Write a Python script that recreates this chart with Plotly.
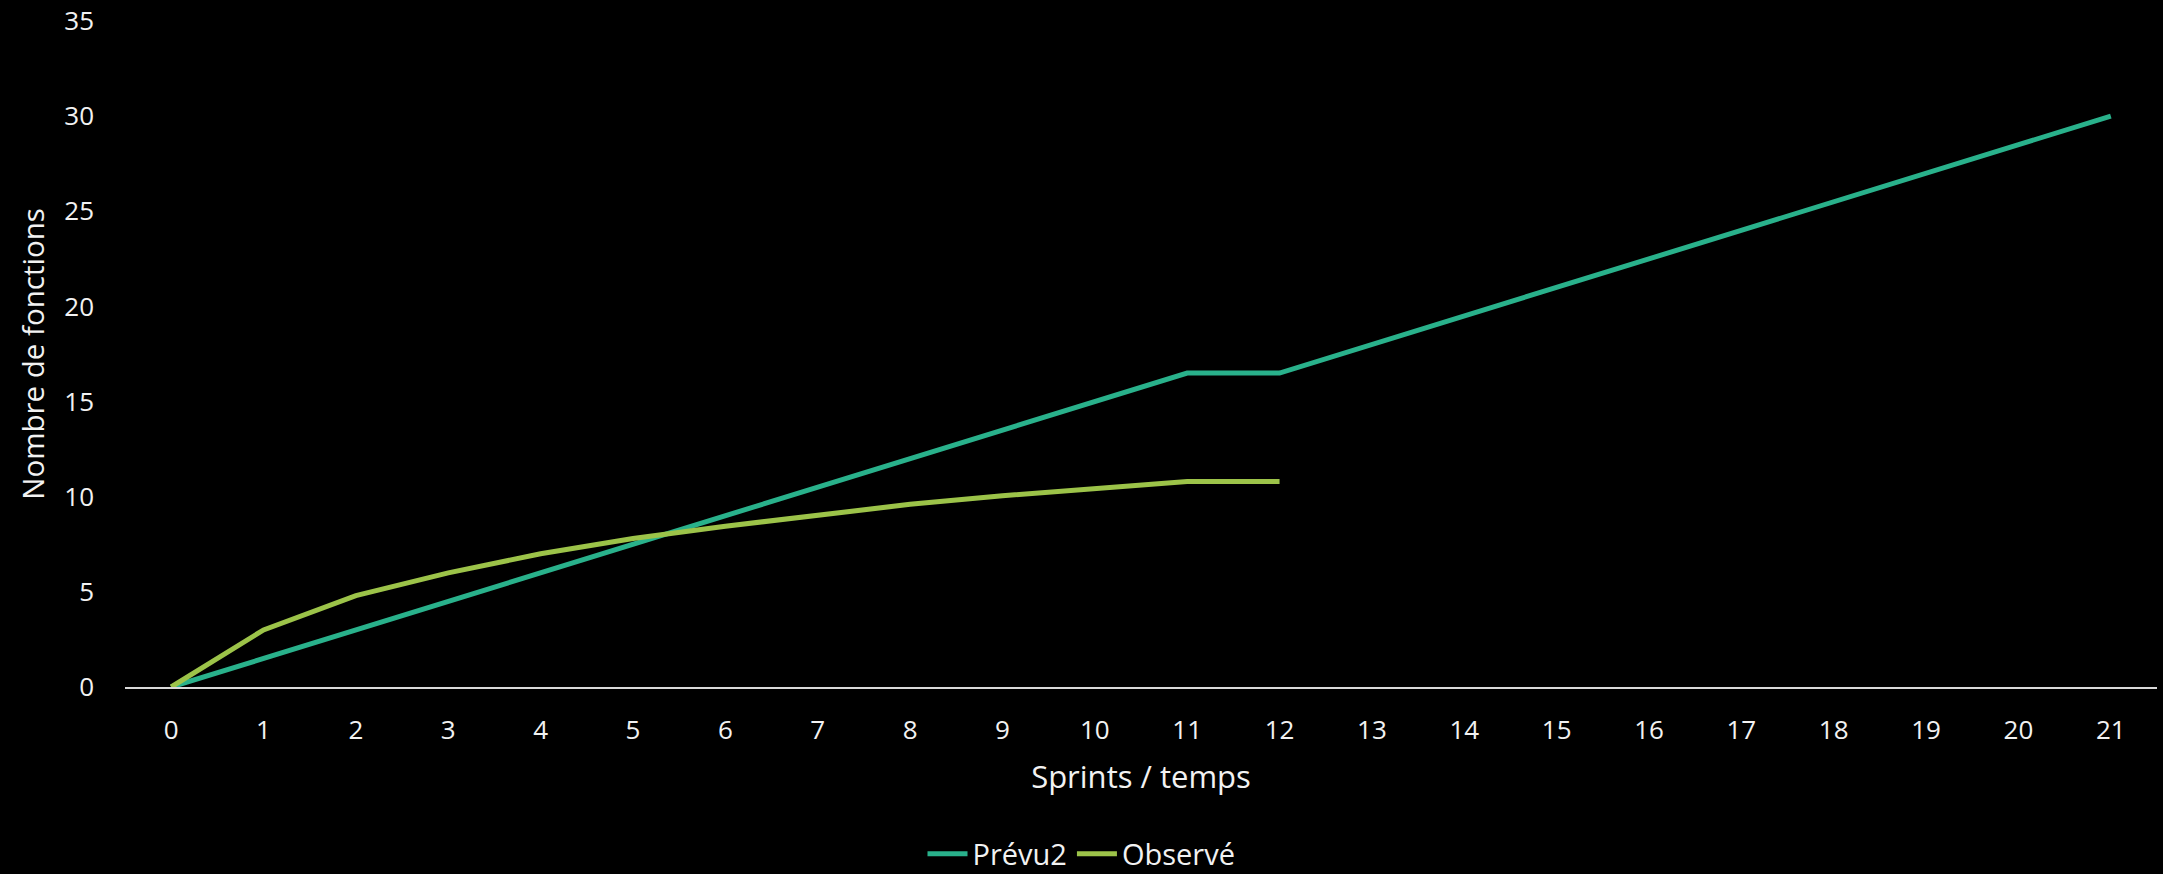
import plotly.graph_objects as go

sprints = list(range(0, 22))
prevu2 = [0, 1.5, 3, 4.5, 6, 7.5, 9, 10.5, 12, 13.5, 15, 16.5, 16.5, 18, 19.5, 21, 22.5, 24, 25.5, 27, 28.5, 30]
observe_x = list(range(0, 13))
observe = [0, 3, 4.8, 6, 7, 7.8, 8.45, 9.05, 9.6, 10.05, 10.45, 10.8, 10.8]

TEAL = "#29B18B"
GREEN = "#9CC349"
TXT = "#F2F2F2"
FONT = "Open Sans"

W, H = 2163, 874
ml, mr, mt, mb = 125, 6, 21, 187

fig = go.Figure()
fig.add_trace(go.Scatter(x=sprints, y=prevu2, mode="lines", name="Prévu2",
                         line=dict(color=TEAL, width=5)))
fig.add_trace(go.Scatter(x=observe_x, y=observe, mode="lines", name="Observé",
                         line=dict(color=GREEN, width=5)))

fig.update_layout(
    width=W, height=H,
    margin=dict(l=ml, r=mr, t=mt, b=mb, pad=0, autoexpand=False),
    paper_bgcolor="black", plot_bgcolor="black",
    font=dict(family=FONT, color=TXT, size=26),
    showlegend=True,
    legend=dict(orientation="h", xref="container", yref="container",
                x=0.5, xanchor="center", y=1 - 854 / H, yanchor="middle",
                font=dict(size=29, color=TXT), bgcolor="rgba(0,0,0,0)",
                itemwidth=40, tracegroupgap=0),
    xaxis=dict(range=[-0.5, 21.5], tickmode="linear", tick0=0, dtick=1,
               showgrid=False, zeroline=False, showline=True, linecolor="#D9D9D9", linewidth=1.5,
               ticks="", ticklabelstandoff=19, tickfont=dict(size=26, color=TXT),
               title=dict(text="Sprints / temps", font=dict(size=31, color=TXT), standoff=20),
               automargin=False, fixedrange=True),
    yaxis=dict(range=[0, 35], tickmode="linear", tick0=0, dtick=5,
               showgrid=False, zeroline=False, showline=False,
               ticks="", ticklabelstandoff=30, tickfont=dict(size=26, color=TXT),
               title=dict(text="Nombre de fonctions", font=dict(size=29.5, color=TXT), standoff=10),
               automargin=False, fixedrange=True),
)

fig.write_html(
    "out.html",
    config={"displayModeBar": False},
    post_script="document.body.style.margin='0';document.body.style.background='black';document.body.style.overflow='hidden';",
)
